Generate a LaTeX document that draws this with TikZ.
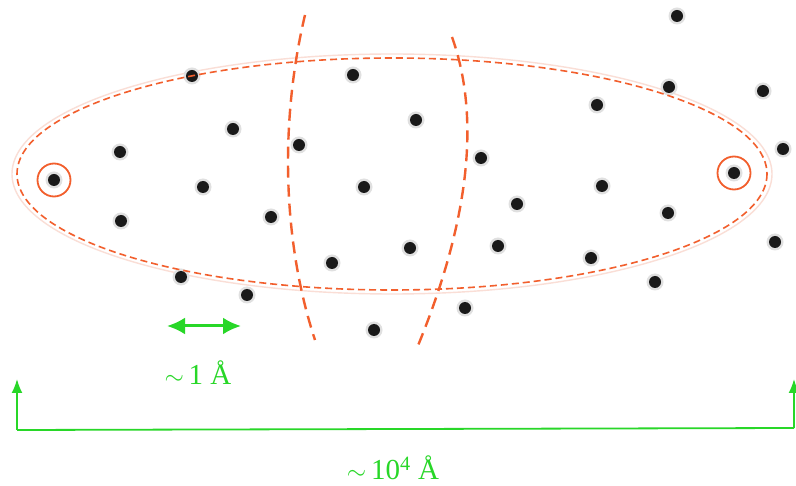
\documentclass[tikz,border=0pt]{standalone}
\usepackage{fontspec}
\setmainfont{Liberation Serif}
\usetikzlibrary{arrows.meta}
\definecolor{dotc}{RGB}{25,25,25}
\definecolor{orng}{RGB}{242,95,45}
\definecolor{pinkc}{RGB}{250,222,214}
\definecolor{grn}{RGB}{40,215,40}
\tikzset{
  atom/.style={circle,fill=dotc,inner sep=0pt,minimum size=12pt},
  halo/.style={circle,fill=black!12,inner sep=0pt,minimum size=17pt},
  bound/.style={orng,line width=1.6pt,dash pattern=on 7pt off 4pt},
  wall/.style={orng,line width=2.4pt,dash pattern=on 12pt off 7pt},
  mark ring/.style={circle,draw=orng,line width=1.8pt,minimum size=33pt,inner sep=0pt},
  gline/.style={grn,line width=1.8pt},
  glabel/.style={grn,font=\fontsize{29}{31}\selectfont,inner sep=0pt}
}
\begin{document}
\begin{tikzpicture}[x=1pt,y=-1pt]
\useasboundingbox (0,0) rectangle (796,486);
\fill[white] (0,0) rectangle (796,486);
% faint outer ellipse
\draw[pinkc,line width=1.4pt] (392,174) ellipse [x radius=380,y radius=120];
% atoms
\foreach \n/\p in {a1/{(677,16)},a2/{(192,76)},a3/{(353,75)},a4/{(669,87)},a5/{(763,91)},
  a6/{(597,105)},a7/{(416,120)},a8/{(233,129)},a9/{(120,152)},a10/{(299,145)},
  a11/{(481,158)},a12/{(783,149)},a13/{(54,180)},a14/{(203,187)},a15/{(364,187)},
  a16/{(602,186)},a17/{(734,173)},a18/{(517,204)},a19/{(271,217)},a20/{(121,221)},
  a21/{(668,213)},a22/{(498,246)},a23/{(410,248)},a24/{(775,242)},a25/{(591,258)},
  a26/{(332,263)},a27/{(181,277)},a28/{(655,282)},a29/{(247,295)},a30/{(465,308)},
  a31/{(374,330)}}{
  \node[halo] at \p {};
  \node[atom] (\n) at \p {};
}
% dashed ellipse
\draw[bound] (392,174) ellipse [x radius=375,y radius=116];
% marked atoms
\node[mark ring] (r1) at (a13) {};
\node[mark ring] (r2) at (a17) {};
% walls
\draw[wall] (305,15) .. controls (280,120) and (282,240) .. (315,340);
\draw[wall] (452,37) .. controls (478,110) and (474,210) .. (417,348);
% 1 A arrow
\coordinate (s1) at (167,326);
\coordinate (s2) at (241,326);
\draw[grn,line width=3pt,{Latex[length=18pt,width=17pt]}-{Latex[length=18pt,width=17pt]}] (s1) -- (s2);
\node[glabel] (l1) at (198,373) {$\sim$\,1 Å};
% 10^4 A bracket
\coordinate (b1) at (17,379);
\coordinate (b2) at (17,430);
\coordinate (b3) at (794,428);
\coordinate (b4) at (794,379);
\draw[gline,-{Latex[length=14pt,width=11pt]}] (b2) -- (b1);
\draw[gline] (b2) -- (b3);
\draw[gline,-{Latex[length=14pt,width=11pt]}] (b3) -- (b4);
\node[glabel] (l2) at (393,468) {$\sim$\,10\textsuperscript{4} Å};
\end{tikzpicture}
\end{document}
